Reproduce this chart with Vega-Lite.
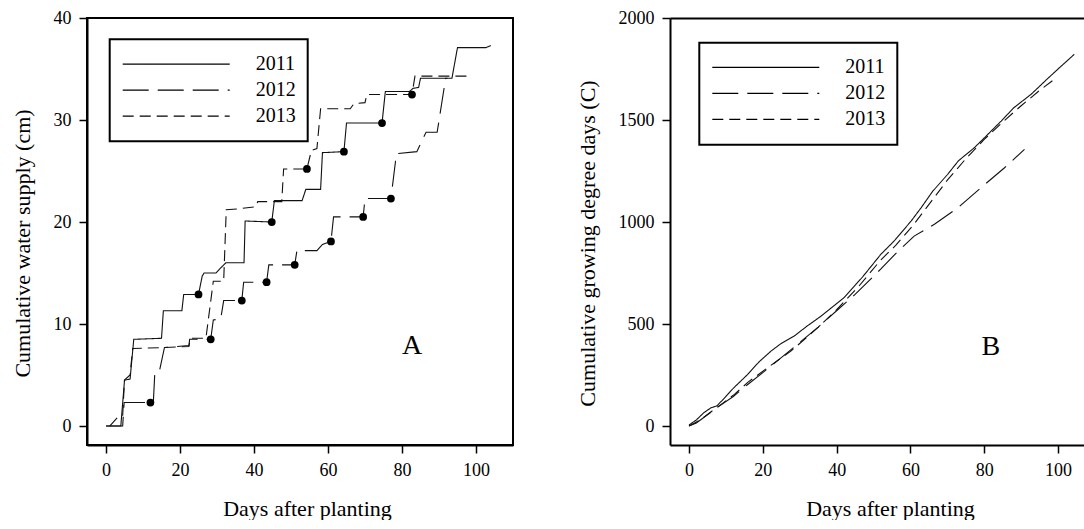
{
  "$schema": "https://vega.github.io/schema/vega-lite/v6.json",
  "background": "white",
  "padding": {"left": 10, "top": 8, "right": 0, "bottom": 0},
  "spacing": 62,
  "config": {
    "font": "Liberation Serif",
    "axis": {"labelFont": "Liberation Serif", "labelFontSize": 18, "labelColor": "black", "titleFont": "Liberation Serif", "titleFontSize": 22, "titleFontWeight": "normal", "titleColor": "black", "tickColor": "black", "tickSize": 8, "tickWidth": 1.5, "domainColor": "black", "domainWidth": 2, "grid": false, "labelPadding": 8, "titlePadding": 19},
    "legend": {"orient": "none", "symbolType": "stroke", "symbolSize": 11449, "symbolStrokeWidth": 1.2, "symbolStrokeColor": "black", "labelFont": "Liberation Serif", "labelFontSize": 20, "labelColor": "black", "labelOffset": 25, "clipHeight": 25.5, "rowPadding": 0, "padding": 12, "strokeColor": "black", "strokeWidth": 2},
    "view": {"stroke": "black", "strokeWidth": 2}
  },
  "datasets": {
    "water": [
      {"year": "2011", "day": 0, "value": 0}, {"year": "2011", "day": 4, "value": 0}, {"year": "2011", "day": 5, "value": 4.5}, {"year": "2011", "day": 6.5, "value": 4.6}, {"year": "2011", "day": 7.5, "value": 8.5}, {"year": "2011", "day": 15, "value": 8.6}, {"year": "2011", "day": 15.5, "value": 11.3}, {"year": "2011", "day": 20.5, "value": 11.3}, {"year": "2011", "day": 21, "value": 12.9}, {"year": "2011", "day": 25, "value": 12.9}, {"year": "2011", "day": 26, "value": 14.7}, {"year": "2011", "day": 26.5, "value": 15}, {"year": "2011", "day": 29.7, "value": 15}, {"year": "2011", "day": 31, "value": 15.5}, {"year": "2011", "day": 32.4, "value": 16}, {"year": "2011", "day": 37.3, "value": 16}, {"year": "2011", "day": 37.6, "value": 20.1}, {"year": "2011", "day": 44.8, "value": 20}, {"year": "2011", "day": 45.5, "value": 22.1}, {"year": "2011", "day": 53, "value": 22.1}, {"year": "2011", "day": 54, "value": 23.2}, {"year": "2011", "day": 58, "value": 23.2}, {"year": "2011", "day": 58.5, "value": 26.8}, {"year": "2011", "day": 64.3, "value": 26.9}, {"year": "2011", "day": 65, "value": 29.7}, {"year": "2011", "day": 74.6, "value": 29.7}, {"year": "2011", "day": 75.5, "value": 32.8}, {"year": "2011", "day": 82, "value": 32.8}, {"year": "2011", "day": 83, "value": 33.1}, {"year": "2011", "day": 84.5, "value": 33.2}, {"year": "2011", "day": 85, "value": 34.1}, {"year": "2011", "day": 93.5, "value": 34.1}, {"year": "2011", "day": 95, "value": 37.1}, {"year": "2011", "day": 102.7, "value": 37.1}, {"year": "2011", "day": 104, "value": 37.3},
      {"year": "2012", "day": 0, "value": 0}, {"year": "2012", "day": 4.5, "value": 0}, {"year": "2012", "day": 4.9, "value": 2.3}, {"year": "2012", "day": 12, "value": 2.3}, {"year": "2012", "day": 12.8, "value": 2.4}, {"year": "2012", "day": 13.2, "value": 5.3}, {"year": "2012", "day": 14.5, "value": 5.5}, {"year": "2012", "day": 15.8, "value": 7.7}, {"year": "2012", "day": 22.4, "value": 7.9}, {"year": "2012", "day": 22.6, "value": 8.5}, {"year": "2012", "day": 28.3, "value": 8.5}, {"year": "2012", "day": 29, "value": 10.4}, {"year": "2012", "day": 31, "value": 10.5}, {"year": "2012", "day": 31.8, "value": 12.3}, {"year": "2012", "day": 36.7, "value": 12.3}, {"year": "2012", "day": 37.2, "value": 14.1}, {"year": "2012", "day": 43.4, "value": 14.1}, {"year": "2012", "day": 44, "value": 15.8}, {"year": "2012", "day": 51, "value": 15.8}, {"year": "2012", "day": 51.6, "value": 17.2}, {"year": "2012", "day": 57, "value": 17.2}, {"year": "2012", "day": 58.5, "value": 17.8}, {"year": "2012", "day": 60.8, "value": 18.1}, {"year": "2012", "day": 61.5, "value": 20.5}, {"year": "2012", "day": 69.5, "value": 20.5}, {"year": "2012", "day": 70, "value": 22.3}, {"year": "2012", "day": 77, "value": 22.3}, {"year": "2012", "day": 78.5, "value": 26.7}, {"year": "2012", "day": 84, "value": 26.9}, {"year": "2012", "day": 86.5, "value": 28.8}, {"year": "2012", "day": 89.5, "value": 28.8}, {"year": "2012", "day": 91.8, "value": 34.1}, {"year": "2012", "day": 92.3, "value": 34.1},
      {"year": "2013", "day": 1, "value": 0}, {"year": "2013", "day": 3, "value": 0.8}, {"year": "2013", "day": 4.5, "value": 1}, {"year": "2013", "day": 5, "value": 4.5}, {"year": "2013", "day": 6.5, "value": 5}, {"year": "2013", "day": 7.2, "value": 7.6}, {"year": "2013", "day": 16, "value": 7.7}, {"year": "2013", "day": 22.4, "value": 7.8}, {"year": "2013", "day": 22.8, "value": 8.6}, {"year": "2013", "day": 27, "value": 8.6}, {"year": "2013", "day": 29, "value": 14.2}, {"year": "2013", "day": 31.8, "value": 14.2}, {"year": "2013", "day": 32.5, "value": 21.2}, {"year": "2013", "day": 36, "value": 21.3}, {"year": "2013", "day": 40.5, "value": 21.5}, {"year": "2013", "day": 41, "value": 22}, {"year": "2013", "day": 47.5, "value": 22}, {"year": "2013", "day": 48, "value": 25.2}, {"year": "2013", "day": 54.3, "value": 25.2}, {"year": "2013", "day": 55.5, "value": 27}, {"year": "2013", "day": 57, "value": 27.2}, {"year": "2013", "day": 58, "value": 31.1}, {"year": "2013", "day": 66, "value": 31.1}, {"year": "2013", "day": 67, "value": 31.6}, {"year": "2013", "day": 70, "value": 31.7}, {"year": "2013", "day": 70.5, "value": 32.5}, {"year": "2013", "day": 82.7, "value": 32.5}, {"year": "2013", "day": 83.5, "value": 34.3}, {"year": "2013", "day": 99, "value": 34.3}
    ],
    "markers": [
      {"day": 12, "value": 2.3}, {"day": 25, "value": 12.9}, {"day": 28.3, "value": 8.5}, {"day": 36.7, "value": 12.3}, {"day": 43.4, "value": 14.1}, {"day": 44.8, "value": 20}, {"day": 51, "value": 15.8}, {"day": 54.3, "value": 25.2}, {"day": 60.8, "value": 18.1}, {"day": 64.3, "value": 26.9}, {"day": 69.5, "value": 20.5}, {"day": 74.6, "value": 29.7}, {"day": 77, "value": 22.3}, {"day": 82.7, "value": 32.5}
    ],
    "gdd": [
      {"year": "2011", "day": 0, "value": 5}, {"year": "2011", "day": 2, "value": 30}, {"year": "2011", "day": 4, "value": 65}, {"year": "2011", "day": 6, "value": 90}, {"year": "2011", "day": 7.5, "value": 98}, {"year": "2011", "day": 9.5, "value": 135}, {"year": "2011", "day": 12, "value": 185}, {"year": "2011", "day": 15.9, "value": 253}, {"year": "2011", "day": 19, "value": 315}, {"year": "2011", "day": 22.2, "value": 367}, {"year": "2011", "day": 25, "value": 405}, {"year": "2011", "day": 28.5, "value": 441}, {"year": "2011", "day": 32, "value": 490}, {"year": "2011", "day": 35.8, "value": 539}, {"year": "2011", "day": 42, "value": 629}, {"year": "2011", "day": 47, "value": 730}, {"year": "2011", "day": 52, "value": 842}, {"year": "2011", "day": 55.6, "value": 907}, {"year": "2011", "day": 60.2, "value": 1005}, {"year": "2011", "day": 62.9, "value": 1070}, {"year": "2011", "day": 66, "value": 1150}, {"year": "2011", "day": 70.1, "value": 1234}, {"year": "2011", "day": 73, "value": 1300}, {"year": "2011", "day": 77.3, "value": 1364}, {"year": "2011", "day": 80, "value": 1412}, {"year": "2011", "day": 84.6, "value": 1495}, {"year": "2011", "day": 88, "value": 1560}, {"year": "2011", "day": 92.7, "value": 1626}, {"year": "2011", "day": 97, "value": 1700}, {"year": "2011", "day": 100, "value": 1750}, {"year": "2011", "day": 104.4, "value": 1822},
      {"year": "2012", "day": 0, "value": 0}, {"year": "2012", "day": 2, "value": 15}, {"year": "2012", "day": 5, "value": 55}, {"year": "2012", "day": 8, "value": 95}, {"year": "2012", "day": 12, "value": 145}, {"year": "2012", "day": 16, "value": 205}, {"year": "2012", "day": 20, "value": 262}, {"year": "2012", "day": 25, "value": 335}, {"year": "2012", "day": 30, "value": 410}, {"year": "2012", "day": 35, "value": 485}, {"year": "2012", "day": 40, "value": 565}, {"year": "2012", "day": 45, "value": 645}, {"year": "2012", "day": 52, "value": 770}, {"year": "2012", "day": 56, "value": 845}, {"year": "2012", "day": 61, "value": 931}, {"year": "2012", "day": 66.5, "value": 989}, {"year": "2012", "day": 72.9, "value": 1070}, {"year": "2012", "day": 79.1, "value": 1168}, {"year": "2012", "day": 85.5, "value": 1266}, {"year": "2012", "day": 90.9, "value": 1356},
      {"year": "2013", "day": 0, "value": 0}, {"year": "2013", "day": 3, "value": 30}, {"year": "2013", "day": 6, "value": 70}, {"year": "2013", "day": 9, "value": 110}, {"year": "2013", "day": 12.3, "value": 155}, {"year": "2013", "day": 16, "value": 215}, {"year": "2013", "day": 21.3, "value": 286}, {"year": "2013", "day": 27.6, "value": 367}, {"year": "2013", "day": 34.9, "value": 482}, {"year": "2013", "day": 40, "value": 570}, {"year": "2013", "day": 46, "value": 685}, {"year": "2013", "day": 52, "value": 815}, {"year": "2013", "day": 56, "value": 885}, {"year": "2013", "day": 61, "value": 990}, {"year": "2013", "day": 66, "value": 1110}, {"year": "2013", "day": 70, "value": 1205}, {"year": "2013", "day": 75, "value": 1310}, {"year": "2013", "day": 80, "value": 1405}, {"year": "2013", "day": 85, "value": 1490}, {"year": "2013", "day": 90, "value": 1570}, {"year": "2013", "day": 95, "value": 1645}, {"year": "2013", "day": 99.5, "value": 1707}
    ],
    "labelA": [{"label": "A", "day": 82.7, "value": 7.8}],
    "labelB": [{"label": "B", "day": 81.8, "value": 387}]
  },
  "hconcat": [
    {
      "width": 426,
      "height": 427,
      "layer": [
        {
          "data": {"name": "water"},
          "mark": {"type": "line", "color": "#111", "strokeWidth": 1.1},
          "encoding": {
            "x": {"field": "day", "type": "quantitative", "scale": {"domain": [-5.14, 110], "nice": false, "zero": false}, "axis": {"values": [0, 20, 40, 60, 80, 100], "title": "Days after planting", "titleX": 220}},
            "y": {"field": "value", "type": "quantitative", "scale": {"domain": [-1.86, 40], "nice": false, "zero": false}, "axis": {"values": [0, 10, 20, 30, 40], "title": "Cumulative water supply (cm)", "titleY": 225}},
            "strokeDash": {"field": "year", "type": "nominal", "scale": {"domain": ["2011", "2012", "2013"], "range": [[1, 0], [26, 9], [11, 6]]}, "legend": {"title": null, "orient": "none", "legendX": 22.7, "legendY": 21.3}}
          }
        },
        {
          "data": {"name": "markers"},
          "mark": {"type": "point", "filled": true, "color": "black", "size": 60, "opacity": 1},
          "encoding": {
            "x": {"field": "day", "type": "quantitative"},
            "y": {"field": "value", "type": "quantitative"}
          }
        },
        {
          "data": {"name": "labelA"},
          "mark": {"type": "text", "font": "Liberation Serif", "fontSize": 28, "color": "black", "baseline": "middle", "align": "center"},
          "encoding": {
            "x": {"field": "day", "type": "quantitative"},
            "y": {"field": "value", "type": "quantitative"},
            "text": {"field": "label"}
          }
        }
      ]
    },
    {
      "width": 415,
      "height": 427,
      "view": {"stroke": null},
      "layer": [
        {
          "data": {"name": "gdd"},
          "mark": {"type": "line", "color": "#111", "strokeWidth": 1.1},
          "encoding": {
            "x": {"field": "day", "type": "quantitative", "scale": {"domain": [-5.15, 107.3], "nice": false, "zero": false}, "axis": {"values": [0, 20, 40, 60, 80, 100], "title": "Days after planting", "titleX": 220}},
            "y": {"field": "value", "type": "quantitative", "scale": {"domain": [-93, 2000], "nice": false, "zero": false}, "axis": {"values": [0, 500, 1000, 1500, 2000], "format": "d", "titleY": 225}, "title": "Cumulative growing degree days (C)"},
            "strokeDash": {"field": "year", "type": "nominal", "scale": {"domain": ["2011", "2012", "2013"], "range": [[1, 0], [26, 9], [11, 6]]}, "legend": {"title": null, "orient": "none", "legendX": 29.3, "legendY": 24.7}}
          }
        },
        {
          "data": {"name": "labelB"},
          "mark": {"type": "text", "font": "Liberation Serif", "fontSize": 28, "color": "black", "baseline": "middle", "align": "center"},
          "encoding": {
            "x": {"field": "day", "type": "quantitative", "axis": {"orient": "top", "labels": false, "ticks": false, "title": null, "domain": true}},
            "y": {"field": "value", "type": "quantitative", "title": "Cumulative growing degree days (C)"},
            "text": {"field": "label"}
          }
        }
      ],
      "resolve": {"axis": {"x": "independent"}}
    }
  ],
  "resolve": {"scale": {"x": "independent", "y": "independent", "strokeDash": "independent"}, "legend": {"strokeDash": "independent"}}
}
